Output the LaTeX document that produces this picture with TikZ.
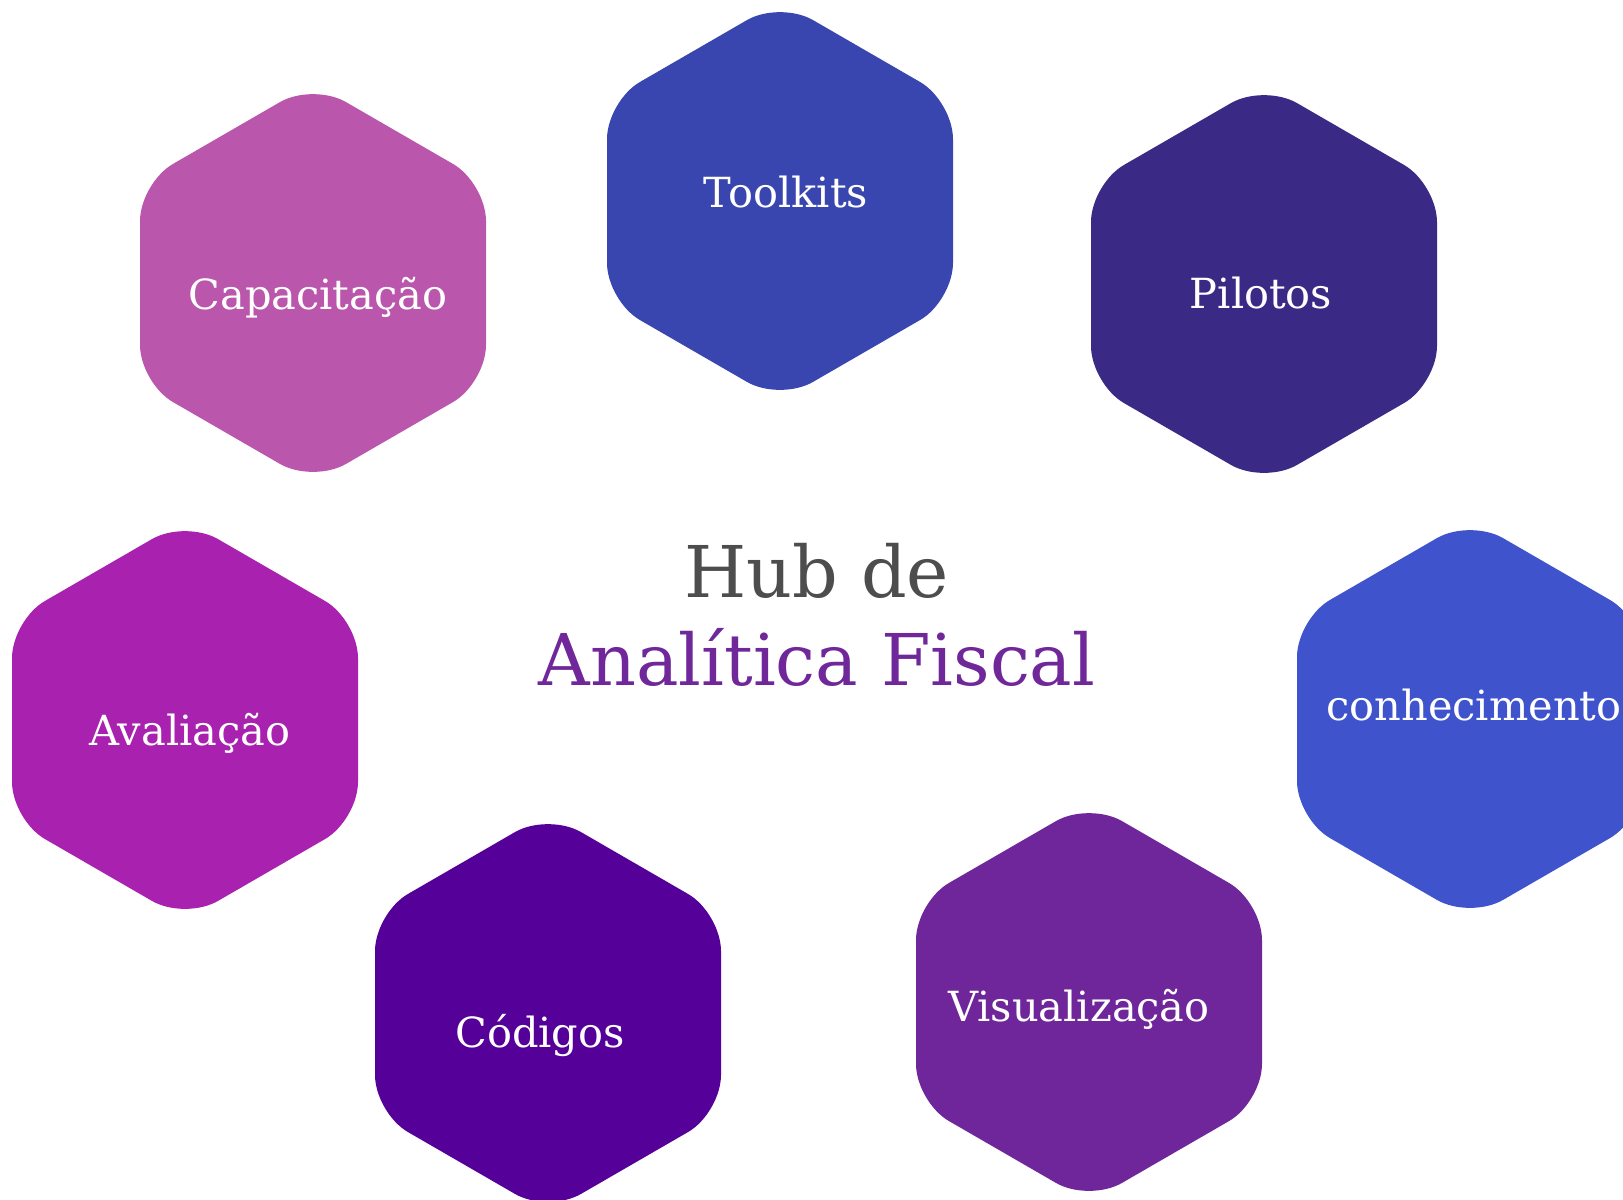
\documentclass[tikz,border=0pt]{standalone}
\usepackage{fontspec}
\setmainfont{DejaVu Serif}
\definecolor{toolkitsblue}{RGB}{57,70,176}
\definecolor{capacitpink}{RGB}{187,86,173}
\definecolor{pilotosindigo}{RGB}{58,42,134}
\definecolor{conhecblue}{RGB}{62,83,204}
\definecolor{avaliamagenta}{RGB}{168,34,175}
\definecolor{codigospurple}{RGB}{85,0,152}
\definecolor{visualpurple}{RGB}{111,38,154}
\definecolor{hubgray}{RGB}{77,77,77}
\definecolor{hubpurple}{RGB}{111,39,154}
\begin{document}
\begin{tikzpicture}[x=0.01cm,y=-0.01cm]
				\useasboundingbox (0,0) rectangle (1623,1199);
				
				\foreach \name/\cx/\cy/\col in {toolkits/780/201/toolkitsblue, capacitacao/313/283/capacitpink, pilotos/1264/284/pilotosindigo, conhecimento/1470/719/conhecblue, avaliacao/185/720/avaliamagenta, codigos/548/1013/codigospurple, visualizacao/1089/1002/visualpurple}
				{
					\coordinate (\name) at (\cx,\cy);
					\fill [\col, rounded corners=0.38cm] (\cx+173,\cy) -- ++(0,100) -- ++(-173,100) -- ++(-173,-100) -- ++(0,-200) -- ++(173,-100) -- ++(173,100) -- cycle;
				}
				
				\begin{scope}[every node/.style={white,anchor=base,inner sep=0pt,font=\fontsize{11.8}{14}\selectfont}]
					\node (toolkitsText) at (786,207) {Toolkits};
					\node (capacitacaoText) at (318,309) {Capacitação};
					\node (pilotosText) at (1261,308) {Pilotos};
					\node (conhecimentoText) at (1474,720) {conhecimento};
					\node (avaliacaoText) at (190,745) {Avaliação};
					\node (codigosText) at (540,1047) {Códigos};
					\node (visualizacaoText) at (1079,1021) {Visualização};
				\end{scope}
				
				\node [hubgray,anchor=base,inner sep=0pt,font=\fontsize{20.3}{24}\selectfont] (hubTitle) at (817,597) {Hub de};
				\node [hubpurple,anchor=base,inner sep=0pt,font=\fontsize{20.3}{24}\selectfont] (hubName) at (817,685) {Analítica Fiscal};
			\end{tikzpicture}
\end{document}
